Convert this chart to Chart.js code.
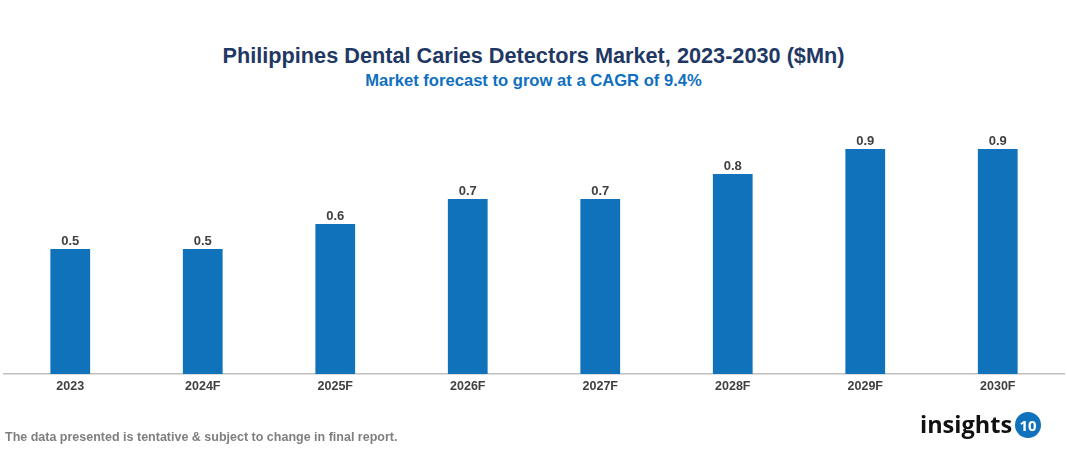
<!DOCTYPE html>
<html>
<head>
<meta charset="utf-8">
<script src="https://cdn.jsdelivr.net/npm/chart.js@4"></script>
<style>
  html, body { margin: 0; padding: 0; background: #fff; }
  body { width: 1067px; height: 454px; position: relative; overflow: hidden; font-family: "Liberation Sans", Arial, sans-serif; }
  #title { position: absolute; top: 43px; left: 0; width: 1067px; text-align: center; font-weight: bold; font-size: 21.7px; color: #1f3864; }
  #subtitle { position: absolute; top: 71px; left: 0; width: 1067px; text-align: center; font-weight: bold; font-size: 16.6px; color: #1070c0; }
  #note { position: absolute; top: 430px; left: 5px; font-weight: bold; font-size: 12.5px; color: #7f7f7f; }
  #logo { position: absolute; top: 408px; left: 920px; font-family: "Open Sans", sans-serif; font-weight: bold; font-size: 23.5px; color: #111; }
  #logo span { display: inline-block; width: 26px; height: 26px; border-radius: 50%; background: #1072ba; color: #fff; font-size: 15px; text-align: center; line-height: 26px; vertical-align: 2px; margin-left: 3px; }
  #wrap { position: absolute; top: 0; left: 0; width: 1067px; height: 454px; }
</style>
</head>
<body>
<div id="title">Philippines Dental Caries Detectors Market, 2023-2030 ($Mn)</div>
<div id="subtitle">Market forecast to grow at a CAGR of 9.4%</div>
<div id="wrap"><canvas id="myChart"></canvas></div>
<div id="note">The data presented is tentative &amp; subject to change in final report.</div>
<div id="logo">insights<span>10</span></div>
<script>
const years = ['2023', '2024F', '2025F', '2026F', '2027F', '2028F', '2029F', '2030F']
const marketSize = [0.5, 0.5, 0.6, 0.7, 0.7, 0.8, 0.9, 0.9]

// value labels above each bar
const barLabels = {
    id: 'barLabels',
    afterDatasetsDraw(chart) {
        const ctx = chart.ctx
        const meta = chart.getDatasetMeta(0)
        ctx.save()
        ctx.font = 'bold 13px "Liberation Sans", Arial, sans-serif'
        ctx.fillStyle = '#404040'
        ctx.textAlign = 'center'
        ctx.textBaseline = 'bottom'
        meta.data.forEach((bar, i) => {
            ctx.fillText(marketSize[i].toFixed(1), bar.x, bar.y - 1)
        })
        ctx.restore()
    }
}

const data = {
    labels: years,
    datasets: [{
        label: 'Market size',
        backgroundColor: '#1072ba',
        data: marketSize,
        categoryPercentage: 1,
        barPercentage: 0.3,
    }]
}

const config = {
    type: 'bar',
    data: data,
    plugins: [barLabels],
    options: {
        responsive: true,
        maintainAspectRatio: false,
        animation: false,
        layout: { padding: { left: 4, right: 3, top: 124, bottom: 55 } },
        plugins: {
            legend: { display: false },
            tooltip: { enabled: false },
        },
        scales: {
            x: {
                grid: { display: false, drawTicks: false },
                border: { display: true, color: '#c0c0c0', width: 1.5 },
                ticks: {
                    padding: 5,
                    color: '#404040',
                    font: { family: '"Liberation Sans", Arial, sans-serif', size: 12.5, weight: 'bold' },
                },
            },
            y: {
                display: false,
                min: 0,
                max: 1,
            }
        }
    },
}

const myChart = new Chart(
    document.getElementById('myChart'),
    config
)
</script>
</body>
</html>
